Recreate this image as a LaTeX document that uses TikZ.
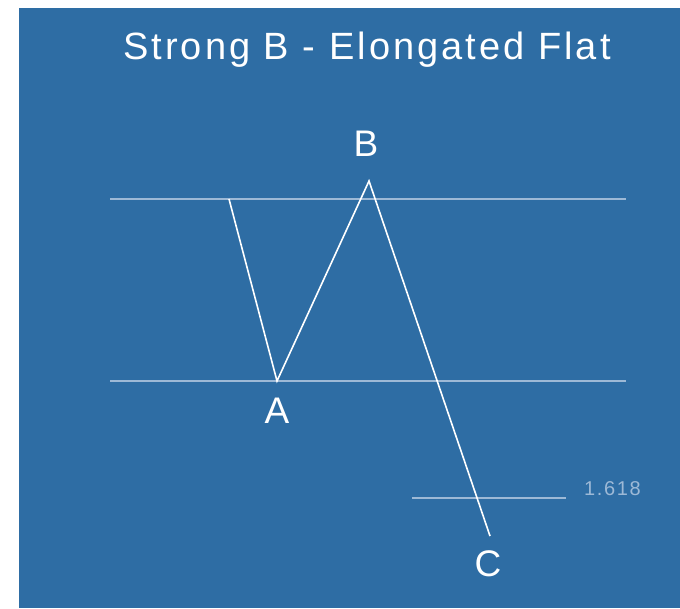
\documentclass[tikz,border=0pt]{standalone}
\usepackage{fontspec}
\setmainfont{Liberation Sans}
\newfontfamily\spacedfont[LetterSpace=8]{Liberation Sans}
\usetikzlibrary{positioning}
\definecolor{panelblue}{HTML}{2E6DA4}
\definecolor{levelgrey}{HTML}{9DB9D6}

\begin{document}
\begin{tikzpicture}[x=1pt, y=-1pt, every node/.style={font=\spacedfont}]
    \tikzset{wave/.style={draw=white, line width=1.6pt, line join=miter}}
    \tikzset{level/.style={draw=levelgrey, line width=1.6pt}}
    \tikzset{pointlbl/.style={text=white, inner sep=0pt, font=\spacedfont\fontsize{37}{40}\selectfont}}

    \useasboundingbox (0,0) rectangle (680,608);
    \fill [panelblue] (19,8) rectangle (680,608);

    % title
    \node [text=white, font=\spacedfont\fontsize{38}{42}\selectfont] (title) at (367,50) {Strong B - Elongated Flat};

    % levels
    \coordinate (top_l) at (110,199);
    \coordinate (top_r) at (626,199);
    \coordinate (low_l) at (110,381);
    \coordinate (low_r) at (626,381);
    \coordinate (ext_l) at (412,498);
    \coordinate (ext_r) at (566,498);
    \draw [level] (top_l) -- (top_r);
    \draw [level] (low_l) -- (low_r);
    \draw [level] (ext_l) -- (ext_r);
    \node [text=levelgrey, inner sep=0pt, font=\spacedfont\fontsize{20}{22}\selectfont, anchor=west] (ext_lbl) at (584,489) {1.618};

    % waves
    \coordinate (w0) at (229,199);
    \coordinate (wA) at (277,381);
    \coordinate (wB) at (369,181);
    \coordinate (wC) at (490,536);
    \draw [wave] (w0) -- (wA) -- (wB) -- (wC);

    \node [pointlbl] (lbl_a) at (277,411) {A};
    \node [pointlbl] (lbl_b) at (366,144) {B};
    \node [pointlbl] (lbl_c) at (488,564) {C};
\end{tikzpicture}
\end{document}
